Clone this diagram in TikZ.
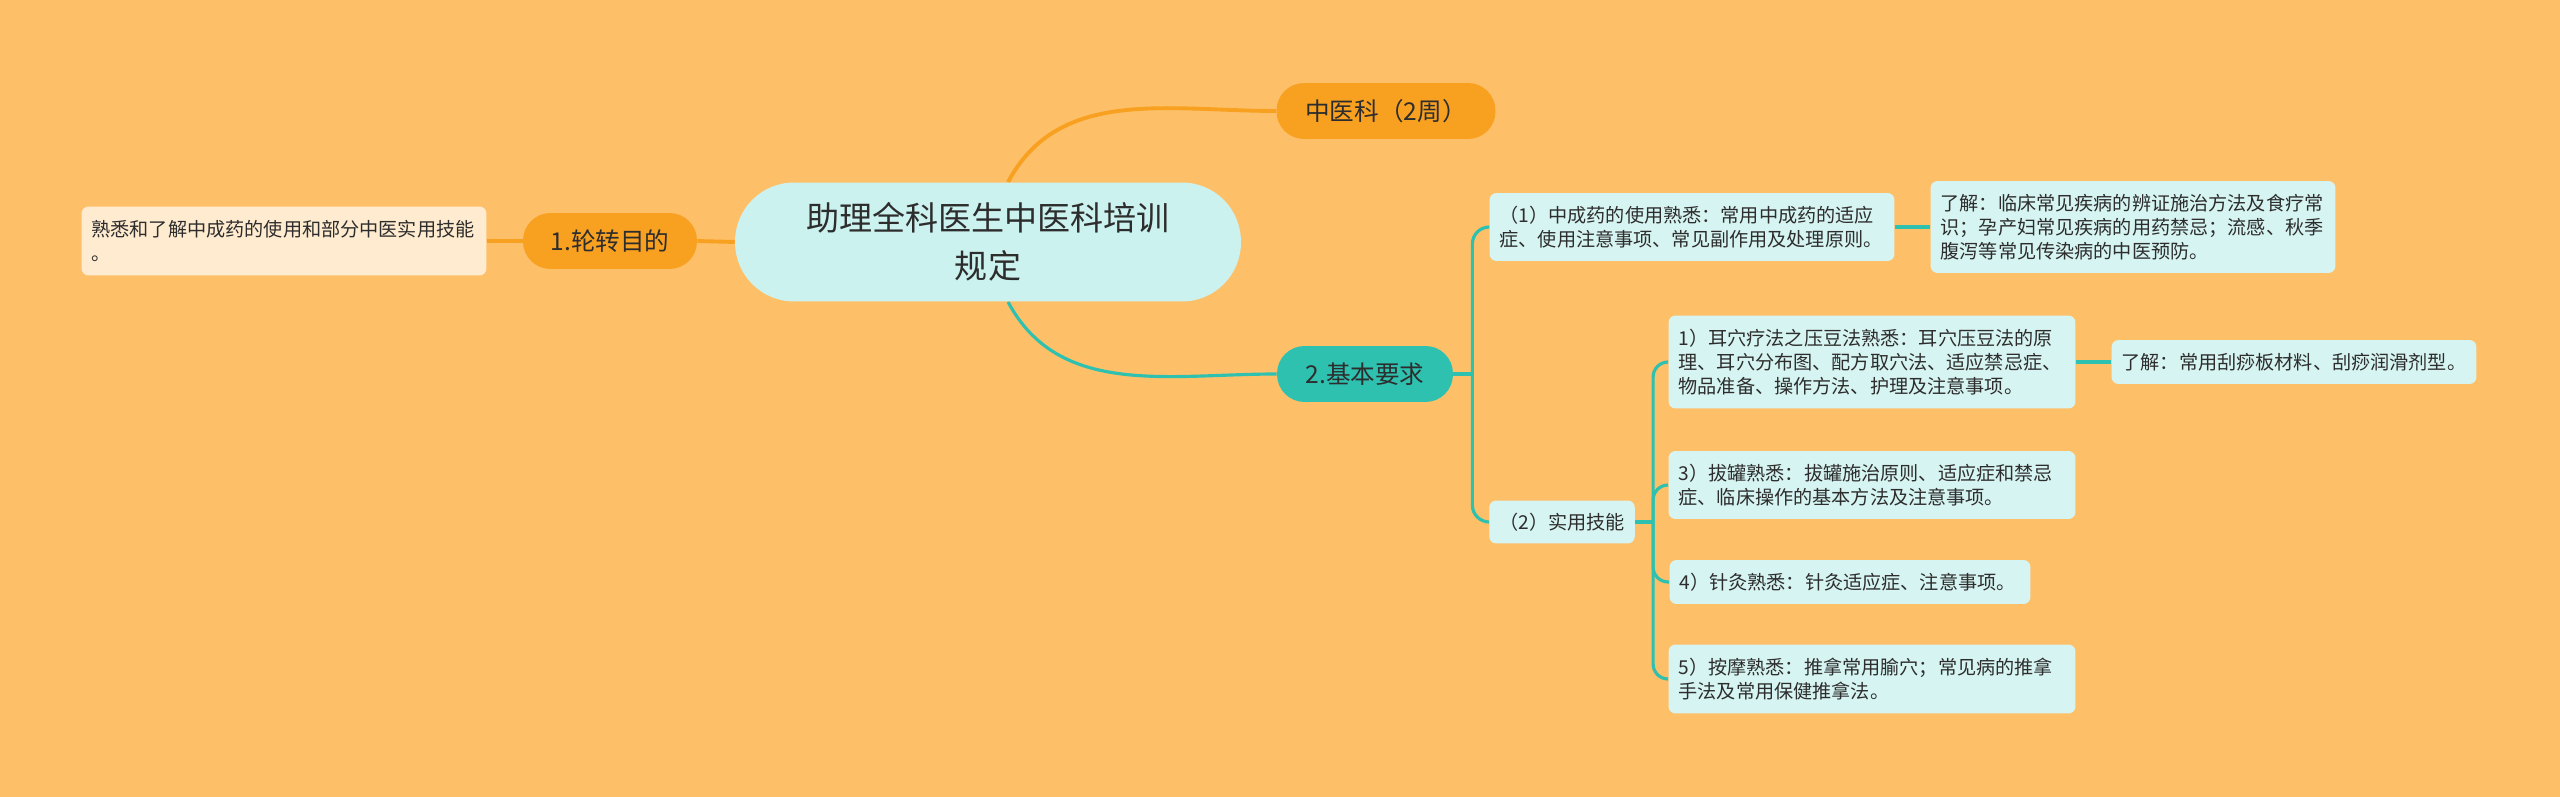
\documentclass[tikz,border=0pt]{standalone}
\usepackage{fontspec}
\setmainfont{Noto Sans CJK SC}
\usepackage{tikz}
\usetikzlibrary{backgrounds}
\usetikzlibrary{positioning}
\definecolor{bgorange}{RGB}{254,191,105}
\definecolor{mainorange}{RGB}{248,160,32}
\definecolor{mainteal}{RGB}{46,193,176}
\definecolor{rootcyan}{RGB}{204,242,239}
\definecolor{leafcyan}{RGB}{214,244,241}
\definecolor{leafcream}{RGB}{255,236,208}
\definecolor{textdark}{RGB}{45,45,45}

\begin{document}
\begin{tikzpicture}[
            x = 0.02cm, y = -0.02cm, % one unit per pixel, y going down
            text = textdark,
            font = \fontsize{10.9pt}{13.8pt}\selectfont
        ]

        \tikzstyle{leaf}=[
            fill = leafcyan,
            rounded corners = 0.14cm,
            align = left,
            inner xsep = 0.2cm,
            inner ysep = 0pt
        ]
        \tikzstyle{pill}=[
            rounded corners = 0.55cm,
            minimum height = 1.12cm,
            inner sep = 0pt,
            font = \fontsize{14pt}{17pt}\selectfont
        ]
        \tikzstyle{oline}=[draw = mainorange, line width = 2.2pt]
        \tikzstyle{tline}=[draw = mainteal, line width = 1.8pt]

        % centre
        \node[fill = rootcyan, rounded corners = 1.18cm, minimum width = 10.12cm, minimum height = 2.38cm, align = center, font = \fontsize{18.8pt}{27pt}\selectfont] (root) at (988,242) {助理全科医生中医科培训\\规定};

        % left branch
        \node[pill, fill = mainorange, minimum width = 3.48cm] (goal) at (610,241) {1.轮转目的};
        \node[leaf, fill = leafcream, text width = 7.7cm, minimum height = 1.38cm] (goaltext) at (284,241) {熟悉和了解中成药的使用和部分中医实用技能\\。};

        % right branches
        \node[pill, fill = mainorange, minimum width = 4.38cm] (tcm) at (1386,111) {中医科（2周）};
        \node[pill, fill = mainteal, minimum width = 3.52cm] (basic) at (1365,374) {2.基本要求};

        \node[leaf, text width = 7.7cm, minimum height = 1.36cm] (med) at (1692,227) {（1）中成药的使用熟悉：常用中成药的适应\\症、使用注意事项、常见副作用及处理原则。};
        \node[leaf, text width = 7.7cm, minimum height = 1.84cm] (medknow) at (2133,227) {了解：临床常见疾病的辨证施治方法及食疗常\\识；孕产妇常见疾病的用药禁忌；流感、秋季\\腹泻等常见传染病的中医预防。};

        \node[leaf, align = center, minimum width = 2.9cm, minimum height = 0.86cm] (skill) at (1562,522) {（2）实用技能};

        \node[leaf, text width = 7.74cm, minimum height = 1.86cm] (ear) at (1872,362) {1）耳穴疗法之压豆法熟悉：耳穴压豆法的原\\理、耳穴分布图、配方取穴法、适应禁忌症、\\物品准备、操作方法、护理及注意事项。};
        \node[leaf, text width = 6.9cm, minimum height = 0.88cm] (earknow) at (2294,362) {了解：常用刮痧板材料、刮痧润滑剂型。};
        \node[leaf, text width = 7.74cm, minimum height = 1.36cm] (cup) at (1872,485) {3）拔罐熟悉：拔罐施治原则、适应症和禁忌\\症、临床操作的基本方法及注意事项。};
        \node[leaf, text width = 6.82cm, minimum height = 0.88cm] (acu) at (1850,582) {4）针灸熟悉：针灸适应症、注意事项。};
        \node[leaf, text width = 7.74cm, minimum height = 1.38cm] (massage) at (1872,679) {5）按摩熟悉：推拿常用腧穴；常见病的推拿\\手法及常用保健推拿法。};

        \coordinate (basicfork) at ([xshift = 0.38cm]basic.east);
        \coordinate (skillfork) at ([xshift = 0.36cm]skill.east);

        \begin{scope}[on background layer]
        \fill[bgorange] (0,0) rectangle (2560,797);

        \path[oline] (root.west) -- (goal.east);
        \path[oline] (goal.west) -- (goaltext.east);
        \path[oline] ([xshift = 0.4cm]root.north) to[out = 62, in = 180] (tcm.west);
        \path[tline] ([xshift = 0.4cm]root.south) to[out = -62, in = 180] (basic.west);

        \path[tline] (basic.east) -- (basicfork);
        \path[tline, rounded corners = 0.34cm] (basicfork) |- (med.west);
        \path[tline, rounded corners = 0.34cm] (basicfork) |- (skill.west);
        \path[tline] (med.east) -- (medknow.west);

        \path[tline] (skill.east) -- (skillfork);
        \path[tline, rounded corners = 0.3cm] (skillfork) |- (ear.west);
        \path[tline, rounded corners = 0.3cm] (skillfork) |- (cup.west);
        \path[tline, rounded corners = 0.3cm] (skillfork) |- (acu.west);
        \path[tline, rounded corners = 0.3cm] (skillfork) |- (massage.west);
        \path[tline] (ear.east) -- (earknow.west);
        \end{scope}

  \end{tikzpicture}
\end{document}
